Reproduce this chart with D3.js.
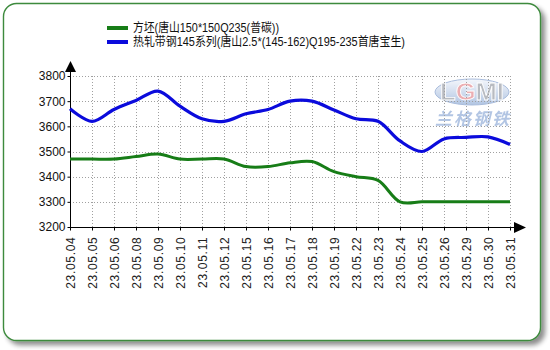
<!DOCTYPE html>
<html><head><meta charset="utf-8">
<script src="https://cdn.jsdelivr.net/npm/d3@7"></script>
<style>body{margin:0;background:#fff}svg{display:block}</style>
</head><body>
<svg id="c" width="550" height="350"></svg>
<script>
const categories = ["23.05.04","23.05.05","23.05.06","23.05.08","23.05.09","23.05.10","23.05.11","23.05.12","23.05.15","23.05.16","23.05.17","23.05.18","23.05.19","23.05.22","23.05.23","23.05.24","23.05.25","23.05.26","23.05.29","23.05.30","23.05.31"];
const billet = [3470,3470,3470,3480,3490,3470,3470,3470,3440,3440,3455,3460,3420,3400,3385,3300,3300,3300,3300,3300,3300];
const hotStrip = [3670,3620,3667,3703,3740,3680,3630,3620,3650,3667,3700,3700,3665,3630,3620,3542,3500,3550,3556,3558,3528];
const seriesNames = ["方坯(唐山150*150Q235(普碳))","热轧带钢145系列(唐山2.5*(145-162)Q195-235首唐宝生)"];
const yTicks = [3200,3300,3400,3500,3600,3700,3800];

const svg = d3.select("#c");
const defs = svg.append("defs");
const f = defs.append("filter").attr("id","sh").attr("x","-5%").attr("y","-5%").attr("width","115%").attr("height","115%");
f.append("feGaussianBlur").attr("in","SourceAlpha").attr("stdDeviation",2.5);
f.append("feOffset").attr("dx",4).attr("dy",4).attr("result","b");
f.append("feComponentTransfer").append("feFuncA").attr("type","linear").attr("slope",0.45);
const m = f.append("feMerge"); m.append("feMergeNode"); m.append("feMergeNode").attr("in","SourceGraphic");

svg.append("rect").attr("x",3.5).attr("y",3.5).attr("width",537).attr("height",337).attr("rx",13)
  .attr("fill","#fff").attr("stroke","#3d8a3d").attr("stroke-width",1.4).attr("filter","url(#sh)");

const fontF = "Arial, 'Liberation Sans', 'Noto Sans CJK SC', sans-serif";
const x = d3.scalePoint().domain(categories).range([70,510]);
const y = d3.scaleLinear().domain([3200,3800]).range([227,76]);

// watermark
const wg = svg.append("g").attr("opacity",0.6);
const lg = defs.append("linearGradient").attr("id","wm").attr("x1",0).attr("y1",0).attr("x2",0).attr("y2",1);
lg.append("stop").attr("offset","0").attr("stop-color","#eef2fa");
lg.append("stop").attr("offset","1").attr("stop-color","#7e9fd0");
wg.append("ellipse").attr("cx",472).attr("cy",92).attr("rx",37).attr("ry",13).attr("fill","url(#wm)").attr("stroke","#6f8fc4").attr("stroke-width",1);
const lt = wg.append("text").attr("x",472).attr("y",100).attr("text-anchor","middle").attr("font-family","Arial, sans-serif").attr("font-size",23).attr("font-weight","bold").attr("stroke","#fff").attr("stroke-width",0.8).attr("textLength",64).attr("lengthAdjust","spacingAndGlyphs");
lt.append("tspan").attr("fill","#8a8f99").text("L");
lt.append("tspan").attr("fill","#e07a80").text("G");
lt.append("tspan").attr("fill","#8a8f99").text("MI");
wg.append("text").attr("x",473).attr("y",125).attr("text-anchor","middle").attr("font-family","'Noto Sans CJK SC', sans-serif").attr("font-size",17).attr("font-weight","bold").attr("font-style","italic").attr("fill","#7f9fd2").attr("letter-spacing",2).text("兰格钢铁");

// grid
const grid = svg.append("g").attr("stroke","#a0a0a0").attr("stroke-width",1).attr("stroke-dasharray","1,2");
grid.selectAll("line.v").data(categories.slice(1)).join("line")
  .attr("x1",d=>Math.round(x(d))+0.5).attr("x2",d=>Math.round(x(d))+0.5).attr("y1",76).attr("y2",227);
grid.selectAll("line.h").data(yTicks.slice(1)).join("line")
  .attr("x1",70).attr("x2",510).attr("y1",d=>Math.round(y(d))+0.5).attr("y2",d=>Math.round(y(d))+0.5);

// axes
const yAxis = svg.append("g").attr("transform","translate(70.5,0)")
  .call(d3.axisLeft(y).tickValues(yTicks).tickSize(3).tickPadding(2).tickFormat(d3.format("d")));
yAxis.select(".domain").remove();
yAxis.selectAll("text").attr("font-family",fontF).attr("font-size",12).attr("fill","#111");
yAxis.selectAll("line").attr("stroke","#000");
svg.append("line").attr("x1",70.5).attr("x2",70.5).attr("y1",227).attr("y2",70).attr("stroke","#000");
svg.append("path").attr("d","M70.5,61 L65,72 L76,72 Z").attr("fill","#000");

const xAxis = svg.append("g").attr("transform","translate(0,227.5)")
  .call(d3.axisBottom(x).tickSize(3).tickPadding(0));
xAxis.select(".domain").remove();
xAxis.selectAll("line").attr("stroke","#000");
xAxis.selectAll("text").attr("font-family",fontF).attr("font-size",12).attr("fill","#222")
  .attr("letter-spacing","0.7px")
  .attr("text-anchor","end").attr("transform","rotate(-90)").attr("x",-9).attr("y",0).attr("dy","0.35em");
svg.append("line").attr("x1",70).attr("x2",516).attr("y1",227.5).attr("y2",227.5).attr("stroke","#000");
svg.append("path").attr("d","M526,227.5 L514,222 L514,233 Z").attr("fill","#000");

// lines
const line = d3.line().x((d,i)=>x(categories[i])).y(d=>y(d)).curve(d3.curveCatmullRom.alpha(0.5));
svg.append("path").datum(billet).attr("d",line).attr("fill","none").attr("stroke","#177d17").attr("stroke-width",3);
svg.append("path").datum(hotStrip).attr("d",line).attr("fill","none").attr("stroke","#0b0bdc").attr("stroke-width",3.2);

// legend
const colors = ["#177d17","#0b0bdc"];
const leg = svg.append("g");
seriesNames.forEach((n,i)=>{
  const yy = 28 + i*14;
  leg.append("line").attr("x1",107).attr("x2",128).attr("y1",yy).attr("y2",yy).attr("stroke",colors[i]).attr("stroke-width",4);
  leg.append("text").attr("x",133).attr("y",yy).attr("dy","0.35em").attr("font-family",fontF).attr("font-size",12.5).attr("fill","#111").attr("textLength",i?272:146).attr("lengthAdjust","spacingAndGlyphs").text(n);
});
</script>
</body></html>
